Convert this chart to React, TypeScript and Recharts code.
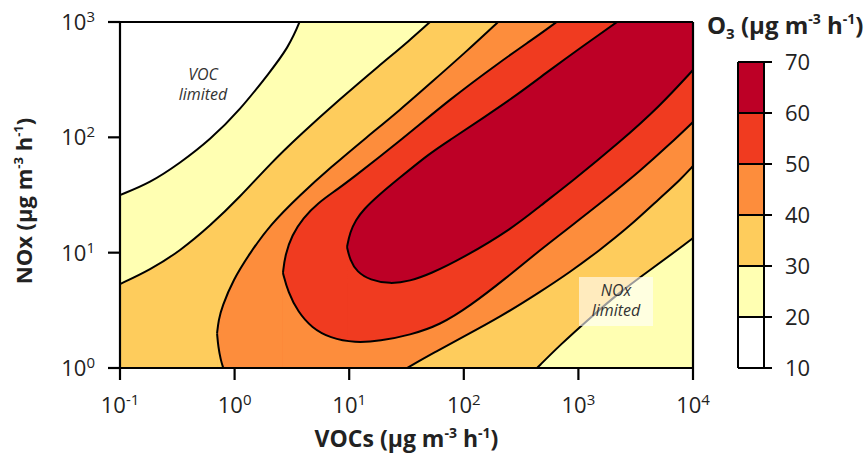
import React from 'react';
import { ComposedChart, Area, XAxis, YAxis, ReferenceLine } from 'recharts';

const FONT = '"Open Sans", "Noto Sans", Arial, sans-serif';

const C_WHITE = '#ffffff';
const C_YELLOW = '#ffffb2';
const C_LORANGE = '#fecc5c';
const C_ORANGE = '#fd8d3c';
const C_RED = '#f03b20';
const C_DARKRED = '#bd0026';

// axes are log10(VOCs) and log10(NOx)
const xTicks = [-1, 0, 1, 2, 3, 4];
const yTicks = [0, 1, 2, 3];

// O3 colour scale
const o3Levels = [10, 20, 30, 40, 50, 60, 70];
const o3Colors = [C_WHITE, C_YELLOW, C_LORANGE, C_ORANGE, C_RED, C_DARKRED];

// contour lines [log10 VOC, log10 NOx]; values past the frame only carry the line out of the plot
const contour20 = [[-1, 1.5], [-0.738, 1.604], [-0.476, 1.777], [-0.215, 1.977], [0.047, 2.237], [0.309, 2.567], [0.466, 2.775], [0.571, 3.0], [0.64, 3.2], [4, 3.2]];
const contour30Upper = [[-1, 0.728], [-0.738, 0.85], [-0.476, 1.015], [-0.215, 1.231], [0.047, 1.483], [0.309, 1.769], [0.571, 2.02], [0.92, 2.332], [1.269, 2.627], [1.531, 2.844], [1.705, 3.0], [1.93, 3.2], [4, 3.2]];
const contour40Upper = [[-0.153, 0.3], [-0.14, 0.416], [-0.11, 0.529], [-0.014, 0.763], [0.134, 0.997], [0.309, 1.24], [0.571, 1.5], [0.832, 1.734], [1.155, 2.003], [1.443, 2.237], [1.731, 2.489], [2.028, 2.749], [2.298, 3.0], [2.52, 3.2], [4, 3.2]];
const contour40Tip = [[-0.153, 0.3], [-0.143, 0.185], [-0.121, 0.069], [-0.099, 0]];
const contour50Upper = [[0.422, 0.824], [0.44, 0.98], [0.501, 1.153], [0.597, 1.301], [0.728, 1.431], [0.876, 1.535], [1.007, 1.63], [1.443, 1.968], [1.88, 2.332], [2.316, 2.653], [2.578, 2.835], [2.813, 3.0], [3.07, 3.2], [4, 3.2]];
const contour60Upper = [[0.981, 1.049], [1.007, 1.179], [1.059, 1.283], [1.12, 1.37], [1.269, 1.509], [1.417, 1.63], [1.705, 1.864], [1.88, 1.977], [2.168, 2.168], [2.464, 2.367], [2.752, 2.584], [3.04, 2.792], [3.337, 3.0], [3.62, 3.2], [4, 3.2]];
const contour60Lower = [[0.981, 1.049], [1.007, 0.936], [1.068, 0.832], [1.182, 0.763], [1.356, 0.728], [1.531, 0.754], [1.705, 0.815], [1.993, 0.954], [2.429, 1.214], [2.665, 1.405], [2.927, 1.604], [3.363, 1.96], [3.712, 2.272], [4.0, 2.584]];
const contour50Lower = [[0.422, 0.824], [0.466, 0.659], [0.553, 0.486], [0.675, 0.347], [0.832, 0.26], [1.051, 0.217], [1.269, 0.234], [1.531, 0.286], [1.792, 0.373], [2.054, 0.538], [2.36, 0.772], [2.665, 1.023], [2.927, 1.223], [3.25, 1.474], [3.538, 1.708], [3.799, 1.942], [4.0, 2.133]];
const contour40Lower = [[1.504, 0], [1.749, 0.139], [1.993, 0.269], [2.316, 0.442], [2.665, 0.659], [2.927, 0.832], [3.188, 1.023], [3.45, 1.231], [3.712, 1.474], [3.887, 1.63], [4.0, 1.751]];
const contour30Lower = [[2.639, 0], [2.839, 0.199], [3.101, 0.434], [3.363, 0.659], [3.625, 0.85], [3.887, 1.04], [4.0, 1.127]];

const pts = (a: number[][]) => a.map(([x, y]) => ({ x, y }));

// painted in order: area below each line gets the band colour
const layers = [
  { data: contour20, fill: C_YELLOW },
  { data: contour30Upper, fill: C_LORANGE },
  { data: contour40Upper, fill: C_ORANGE },
  { data: contour40Tip, fill: C_LORANGE },
  { data: contour50Upper, fill: C_RED },
  { data: contour60Upper, fill: C_DARKRED },
  { data: contour60Lower, fill: C_RED },
  { data: contour50Lower, fill: C_ORANGE },
  { data: contour40Lower, fill: C_LORANGE },
  { data: contour30Lower, fill: C_YELLOW },
];

const TXT = '#222';

const XTick = (p: any) => (
  <text x={p.x} y={p.y + 31} textAnchor="middle" fontFamily={FONT} fontSize={22} fill={TXT}>
    <tspan>10</tspan>
    <tspan fontSize={15} dy={-8}>{String(p.payload.value)}</tspan>
  </text>
);

const YTick = (p: any) => (
  <text x={p.x - 11} y={p.y + 8} textAnchor="end" fontFamily={FONT} fontSize={22} fill={TXT}>
    <tspan>10</tspan>
    <tspan fontSize={15} dy={-8}>{String(p.payload.value)}</tspan>
  </text>
);

const BarTick = (p: any) => (
  <text x={p.x + 11} y={p.y + 8} textAnchor="start" fontFamily={FONT} fontSize={22} fill={TXT}>
    {String(p.payload.value)}
  </text>
);

const sup = (t: string, size = 13, top = -9) => (
  <span style={{ fontSize: size, position: 'relative', top }}>{t}</span>
);

const noteLine = (t: string, left: number, top: number, width: number) => (
  <div style={{ position: 'absolute', left, top, width, textAlign: 'center', fontStyle: 'italic', fontSize: 16, lineHeight: '17px', color: '#333', whiteSpace: 'nowrap' }}>{t}</div>
);

export default function App() {
  const bands = o3Colors.map((c, i) => ({
    color: c,
    data: [
      { x: 0, y: [o3Levels[i], o3Levels[i + 1]] },
      { x: 1, y: [o3Levels[i], o3Levels[i + 1]] },
    ],
  }));
  const axisStyle = { stroke: '#000', strokeWidth: 2.2 };
  return (
    <div style={{ position: 'absolute', left: 0, top: 0, width: 864, height: 456, background: '#fff', fontFamily: FONT, color: TXT, overflow: 'hidden' }}>
      <div style={{ position: 'absolute', left: 0, top: 0 }}>
        <ComposedChart width={725} height={456} margin={{ top: 22, right: 32, bottom: 0, left: 40 }}>
          {layers.map((l, i) => (
            <Area
              key={i}
              data={pts(l.data)}
              dataKey="y"
              type="basis"
              fill={l.fill}
              fillOpacity={1}
              stroke="#000"
              strokeWidth={2}
              dot={false}
              activeDot={false}
              isAnimationActive={false}
            />
          ))}
          <ReferenceLine y={3} stroke="#000" strokeWidth={2.2} />
          <ReferenceLine x={4} stroke="#000" strokeWidth={2.2} />
          <XAxis type="number" dataKey="x" domain={[-1, 4]} ticks={xTicks} allowDataOverflow height={88} tickSize={12} interval={0} tick={<XTick />} axisLine={axisStyle} tickLine={axisStyle} />
          <YAxis type="number" domain={[0, 3]} ticks={yTicks} allowDataOverflow width={80} tickSize={12} interval={0} tick={<YTick />} axisLine={axisStyle} tickLine={axisStyle} />
        </ComposedChart>
      </div>

      <div style={{ position: 'absolute', left: 700, top: 0 }}>
        <ComposedChart width={164} height={456} margin={{ top: 62, right: 30, bottom: 88, left: 38 }}>
          {bands.map((b, i) => (
            <Area
              key={i}
              data={b.data}
              dataKey="y"
              type="linear"
              fill={b.color}
              fillOpacity={1}
              stroke="#000"
              strokeWidth={2}
              dot={false}
              activeDot={false}
              isAnimationActive={false}
            />
          ))}
          <ReferenceLine x={0} stroke="#000" strokeWidth={2} />
          <ReferenceLine x={1} stroke="#000" strokeWidth={2} />
          <XAxis type="number" dataKey="x" domain={[0, 1]} hide />
          <YAxis orientation="right" type="number" domain={[10, 70]} ticks={o3Levels} interval={0} width={70} tickSize={8} axisLine={false} tickLine={{ stroke: '#000', strokeWidth: 2 }} tick={<BarTick />} />
        </ComposedChart>
      </div>

      {noteLine('VOC', 148, 66, 110)}
      {noteLine('limited', 148, 86, 110)}
      <div style={{ position: 'absolute', left: 579, top: 277, width: 74, height: 49, background: 'rgba(255,255,255,0.6)' }} />
      {noteLine('NOx', 579, 282, 74)}
      {noteLine('limited', 579, 302, 74)}

      <div style={{ position: 'absolute', left: 120, top: 424, width: 573, textAlign: 'center', fontWeight: 700, fontSize: 23, lineHeight: '28px', whiteSpace: 'nowrap' }}>
        VOCs (μg m{sup('-3', 14)} h{sup('-1', 14)})
      </div>
      <div style={{ position: 'absolute', left: -137, top: 187, width: 320, height: 28, textAlign: 'center', fontWeight: 700, fontSize: 22, lineHeight: '28px', whiteSpace: 'nowrap', transform: 'rotate(-90deg)', transformOrigin: '50% 50%' }}>
        NOx (μg m{sup('-3')} h{sup('-1')})
      </div>
      <div style={{ position: 'absolute', left: 707, top: 10, fontWeight: 700, fontSize: 24, lineHeight: '30px', whiteSpace: 'nowrap' }}>
        O<span style={{ fontSize: 15, position: 'relative', top: 5 }}>3</span> (μg m{sup('-3', 14, -10)} h{sup('-1', 14, -10)})
      </div>
    </div>
  );
}
